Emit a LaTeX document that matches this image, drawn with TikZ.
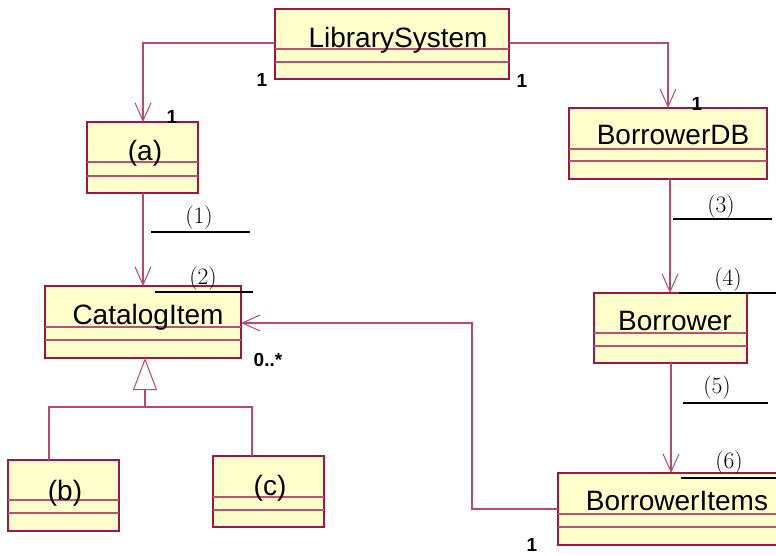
\documentclass[tikz,border=0pt]{standalone}
\usepackage{fontspec}
\newfontfamily\umlfont{Liberation Sans}
\usetikzlibrary{arrows.meta}
\definecolor{boxborder}{RGB}{160,20,70}
\definecolor{boxfill}{RGB}{255,255,204}
\definecolor{divline}{RGB}{190,80,115}
\definecolor{connline}{RGB}{190,70,110}
\tikzset{
  classbox/.style={draw=boxborder, fill=boxfill, line width=1.4pt, inner sep=0pt, outer sep=0pt, anchor=north west},
  divider/.style={draw=divline, line width=1.2pt},
  classtext/.style={font=\umlfont\fontsize{28}{30}\selectfont, inner sep=0pt, anchor=base},
  mult/.style={font=\umlfont\bfseries\fontsize{19}{21}\selectfont, inner sep=0pt},
  blank/.style={font=\fontsize{23.5}{26}\selectfont, inner sep=0pt},
  ul/.style={draw=black, line width=1.6pt},
  conn/.style={draw=connline, line width=1.1pt},
  assoc/.style={conn, -{Straight Barb[length=18pt,width=16pt,line width=1pt]}},
  inherit/.style={conn, -{Triangle[open,length=32pt,width=24pt,line width=1pt,fill=white]}},
}
\newcommand\umlclass[7]{%
  \node[classbox, minimum width={(#4-#2)*1pt}, minimum height={(#5-#3)*1pt}] (#1) at (#2,#3) {};
  \draw[divider] (#1.north west) ++(0,{#6-#3}) -- ++({#4-#2},0);
  \draw[divider] (#1.north west) ++(0,{#7-#3}) -- ++({#4-#2},0);
}
\begin{document}
\begin{tikzpicture}[x=1pt,y=-1pt]
\useasboundingbox (0,0) rectangle (776,555);
% classes
\umlclass{ls}{275}{9}{509}{79}{49}{62}
\umlclass{a}{87}{122}{198}{193}{162}{176}
\umlclass{cat}{45}{286}{241}{358}{327}{340}
\umlclass{b}{8}{460}{119}{531}{500}{513}
\umlclass{c}{213}{456}{324}{527}{497}{510}
\umlclass{bdb}{569}{108}{767}{179}{149}{161}
\umlclass{bor}{594}{293}{747}{363}{333}{346}
\umlclass{bi}{558}{473}{795}{545}{514}{527}
% class names
\node[classtext] (ls-t) at (398,47) {LibrarySystem};
\node[classtext] (a-t) at (145,160) {(a)};
\node[classtext] (cat-t) at (148,324) {CatalogItem};
\node[classtext] (b-t) at (65,500) {(b)};
\node[classtext] (c-t) at (270,495) {(c)};
\node[classtext] (bdb-t) at (673,144) {BorrowerDB};
\node[classtext] (bor-t) at (675,330) {Borrower};
\node[classtext] (bi-t) at (677,510) {BorrowerItems};
% connector points
\coordinate (p1) at (143,43);
\coordinate (p2) at (668,43);
\coordinate (q1) at (472,509);
\coordinate (q2) at (472,323);
\coordinate (inh) at (145,407);
\coordinate (bl) at (49,407);
\coordinate (cr) at (252,407);
% associations
\draw[assoc] (ls.west |- p1) -- (p1) -- (p1 |- a.north);
\draw[assoc] (ls.east |- p2) -- (p2) -- (p2 |- bdb.north);
\draw[assoc] (a.south -| p1) -- (p1 |- cat.north);
\draw[assoc] (670,179) -- (670,293);
\draw[assoc] (671,363) -- (671,473);
\draw[assoc] (bi.west |- q1) -- (q1) -- (q2) -- (cat.east |- q2);
% generalization
\draw[inherit] (inh) -- (inh |- cat.south);
\draw[conn] (bl |- b.north) -- (bl) -- (cr) -- (cr |- c.north);
% multiplicities
\node[mult] (m1) at (262,80) {1};
\node[mult] (m2) at (522,81) {1};
\node[mult] (m3) at (172,117) {1};
\node[mult] (m4) at (697,104) {1};
\node[mult] (m5) at (532,545) {1};
\node[mult] (m6) at (268,360) {0..*};
% blanks
\node[blank] (l1) at (199,218) {(1)};
\draw[ul] (151,232) -- (250,232);
\node[blank] (l2) at (203,279) {(2)};
\draw[ul] (155,292) -- (253,292);
\node[blank] (l3) at (721,207) {(3)};
\draw[ul] (673,219) -- (772,219);
\node[blank] (l4) at (728,280) {(4)};
\draw[ul] (679,293) -- (778,293);
\node[blank] (l5) at (717,388) {(5)};
\draw[ul] (683,403) -- (768,403);
\node[blank] (l6) at (729,463) {(6)};
\draw[ul] (681,478) -- (778,478);
\end{tikzpicture}
\end{document}
